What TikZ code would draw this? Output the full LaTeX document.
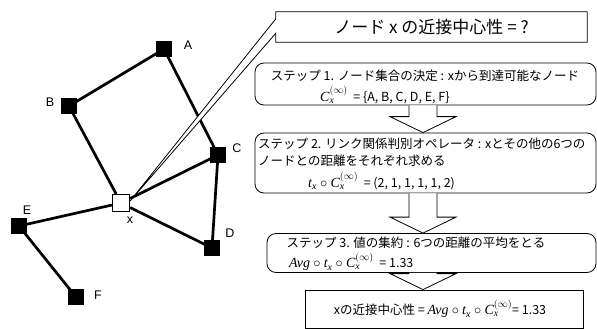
\documentclass[tikz,border=0pt]{standalone}
\usepackage{fontspec}
\usepackage{amsmath}
\setmainfont{Noto Sans CJK JP}
\newfontfamily\lsans{Liberation Sans}
\newfontfamily\tnr{Liberation Serif}
\newcommand{\ti}[1]{\text{\tnr\itshape #1}}
\newcommand{\Cinf}{\ti{C}_{\ti{x}}^{(\infty)}}
\newcommand{\mymath}[1]{{\fontsize{14}{14}\selectfont$#1$}}
\usetikzlibrary{calc}
\begin{document}
\begin{tikzpicture}[x=1pt,y=-1pt,
  edge/.style={line width=2.7pt},
  blk/.style={fill=black,minimum size=15.5pt,inner sep=0pt},
  wht/.style={draw=black,fill=white,line width=1.3pt,minimum size=17pt,inner sep=0pt},
  lab/.style={font=\lsans\fontsize{12.5}{12.5}\selectfont,inner sep=0pt},
  stepbox/.style={draw,rounded corners=9pt,line width=0.8pt,inner sep=0pt},
  plainbox/.style={draw,line width=0.8pt,inner sep=0pt},
  txt/.style={font=\fontsize{12.5}{13}\selectfont,inner sep=0pt},
  barrow/.style={draw,line width=0.8pt,fill=white,line join=miter}]
\useasboundingbox (0,0) rectangle (597,329);

% graph nodes
\node[blk] (A) at (164,49) {};
\node[blk] (B) at (69,106) {};
\node[blk] (C) at (218,155) {};
\node[blk] (D) at (212,248) {};
\node[blk] (E) at (19,226) {};
\node[blk] (F) at (76,297) {};
\node[wht] (X) at (121,203) {};

\draw[edge] (A.center) -- (B.center);
\draw[edge] (A.center) -- (C.center);
\draw[edge] (B.center) -- (X);
\draw[edge] (X) -- (C.center);
\draw[edge] (X) -- (D.center);
\draw[edge] (C.center) -- (D.center);
\draw[edge] (X) -- (E.center);
\draw[edge] (E.center) -- (F.center);
\node[blk] at (A) {};
\node[blk] at (B) {};
\node[blk] at (C) {};
\node[blk] at (D) {};
\node[blk] at (E) {};
\node[blk] at (F) {};
\node[wht] at (X) {};

\node[lab] (lA) at (188,45) {A};
\node[lab] (lB) at (50,102) {B};
\node[lab] (lC) at (237,148) {C};
\node[lab] (lD) at (230,233) {D};
\node[lab] (lE) at (27,210) {E};
\node[lab] (lF) at (98,295) {F};
\node[lab] (lX) at (130,220) {x};

% callout
\node[inner sep=0pt,minimum width=311pt,minimum height=30pt,font=\fontsize{17}{18}\selectfont] (co) at (431.5,27) {ノード x の近接中心性 = ?};
\coordinate (tip) at ($(X.east)+(0,-2)$);
\draw[line width=0.8pt,fill=white] (co.north west) -- (co.north east) -- (co.south east) -- (co.south west)
  -- ($(co.south west)+(0,-9)$) -- (tip) -- ($(co.north west)+(0,7)$) -- cycle;
\node[inner sep=0pt,font=\fontsize{17}{18}\selectfont] at (co) {ノード x の近接中心性 = ?};

% step boxes
\node[stepbox,minimum width=341pt,minimum height=42pt] (s1) at (425.5,84) {};
\node[stepbox,minimum width=341pt,minimum height=60pt] (s2) at (425.5,163) {};
\node[stepbox,minimum width=329pt,minimum height=39pt] (s3) at (431.5,253) {};
\node[plainbox,minimum width=278pt,minimum height=38pt] (s4) at (444,309) {};

\node[txt] (t1a) at (425,76) {ステップ 1. ノード集合の決定 : xから到達可能なノード};
\node[txt,anchor=west] (t1b) at (320,95) {\mymath{\Cinf}\ \ = \{A, B, C, D, E, F\}};
\node[txt,anchor=west] (t2a) at (258,144) {ステップ 2. リンク関係判別オペレータ : xとその他の6つの};
\node[txt,anchor=west] (t2b) at (258,161) {ノードとの距離をそれぞれ求める};
\node[txt,anchor=west] (t2c) at (308,181) {\mymath{\ti{t}_{\ti{x}}\circ\Cinf}\ \ = (2,\ 1,\ 1,\ 1,\ 1,\ 2)};
\node[txt] (t3a) at (416,243) {ステップ 3. 値の集約 : 6つの距離の平均をとる};
\node[txt,anchor=west] (t3b) at (289,262) {\mymath{\ti{Avg}\circ\ti{t}_{\ti{x}}\circ\Cinf}\ \ = 1.33};
\node[txt] (t4) at (440,309) {xの近接中心性 = \mymath{\ti{Avg}\circ\ti{t}_{\ti{x}}\circ\Cinf}= 1.33};

% block arrows
\coordinate (ax) at (423,0);
\newcommand{\blockarrow}[2]{%
  \draw[barrow] let \p1=(ax |- #1.south), \p2=(ax |- #2.north) in
    (\x1-14pt,\y1) -- (\x1-14pt,\y2+16pt) -- (\x1-33pt,\y2+16pt) -- (\x2,\y2)
    -- (\x1+33pt,\y2+16pt) -- (\x1+14pt,\y2+16pt) -- (\x1+14pt,\y1);}
\blockarrow{s1}{s2}
\blockarrow{s2}{s3}
\blockarrow{s3}{s4}
\end{tikzpicture}
\end{document}
